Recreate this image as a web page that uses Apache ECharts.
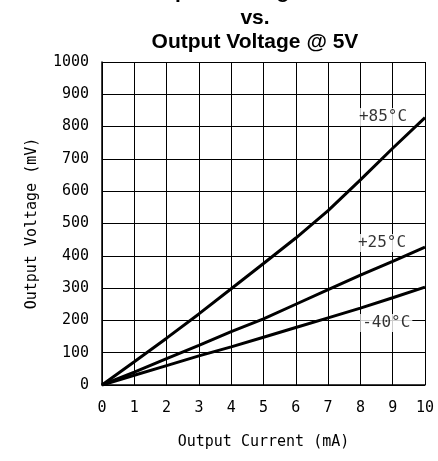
<!DOCTYPE html>
<html>
<head>
<meta charset="utf-8">
<script src="https://cdn.jsdelivr.net/npm/echarts@6/dist/echarts.min.js"></script>
<style>
  html, body { margin: 0; padding: 0; background: #fff; }
  #chart { width: 438px; height: 461px; }
</style>
</head>
<body>
<div id="chart"></div>
<script>
// Corrente de saída (mA) nos pontos
const correnteMA = [0, 1, 2, 3, 4, 5, 6, 7, 8, 9, 10];

// Tensão de saída (mV) para cada temperatura
const tensao85 = [0, 72, 145, 220, 298, 376, 455, 540, 635, 733, 828];
const tensao25 = [0, 40, 82, 123, 165, 205, 250, 295, 340, 383, 427];
const tensaoMenos40 = [0, 30, 60, 90, 118, 148, 178, 208, 238, 270, 303];

// Rótulos das curvas: texto, posição em mA e mV
const rotulosTexto = ['+85°C', '+25°C', '-40°C'];
const rotulosX = [8.7, 8.67, 8.8];
const rotulosY = [830, 440, 192];

const linhasTitulo = ['Output Sinking Current', 'vs.', 'Output Voltage @ 5V'];
const posTituloY = [-8, 18, 42];

const fonteMono = '"DejaVu Sans Mono", monospace';

function serieCurva(nome, valores) {
    return {
        name: nome,
        type: 'line',
        data: correnteMA.map((x, i) => [x, valores[i]]),
        symbol: 'none',
        smooth: false,
        lineStyle: { color: '#000', width: 3 },
        z: 3
    };
}

const chart = echarts.init(document.getElementById('chart'));
chart.setOption({
    animation: false,
    backgroundColor: '#fff',
    graphic: linhasTitulo.map((t, i) => ({
        type: 'text',
        x: 255,
        y: posTituloY[i],
        style: {
            text: t,
            textAlign: 'center',
            textVerticalAlign: 'middle',
            font: 'bold 21px "Liberation Sans", Arial, sans-serif',
            fill: '#000'
        }
    })),
    grid: { left: 102, right: 13, top: 62, bottom: 76 },
    xAxis: {
        type: 'value',
        min: 0,
        max: 10,
        interval: 1,
        name: 'Output Current (mA)',
        nameLocation: 'middle',
        nameGap: 50,
        nameTextStyle: { fontFamily: fonteMono, fontSize: 15, color: '#000' },
        axisLine: { lineStyle: { color: '#000', width: 1.5 } },
        axisTick: { show: false },
        axisLabel: { margin: 16, fontFamily: fonteMono, fontSize: 15, color: '#000' },
        splitLine: { show: true, lineStyle: { color: '#000', width: 1 } }
    },
    yAxis: {
        type: 'value',
        min: 0,
        max: 1000,
        interval: 100,
        name: 'Output Voltage (mV)',
        nameLocation: 'middle',
        nameGap: 62,
        nameTextStyle: { fontFamily: fonteMono, fontSize: 15, color: '#000' },
        axisLine: { show: true, lineStyle: { color: '#000', width: 1.5 } },
        axisTick: { show: false },
        axisLabel: {
            margin: 13,
            formatter: v => String(v),
            fontFamily: fonteMono,
            fontSize: 15,
            color: '#000'
        },
        splitLine: { show: true, lineStyle: { color: '#000', width: 1 } }
    },
    series: [
        serieCurva('+85°C', tensao85),
        serieCurva('+25°C', tensao25),
        serieCurva('-40°C', tensaoMenos40),
        {
            // rótulos com fundo branco por cima da grade
            type: 'scatter',
            symbolSize: 1,
            itemStyle: { color: 'rgba(0,0,0,0)' },
            data: rotulosTexto.map((t, i) => ({ name: t, value: [rotulosX[i], rotulosY[i]] })),
            label: {
                show: true,
                position: 'inside',
                formatter: p => p.name,
                fontFamily: fonteMono,
                fontSize: 16,
                color: '#000',
                backgroundColor: '#fff',
                padding: [1, 2]
            },
            z: 4
        }
    ]
});
</script>
</body>
</html>
